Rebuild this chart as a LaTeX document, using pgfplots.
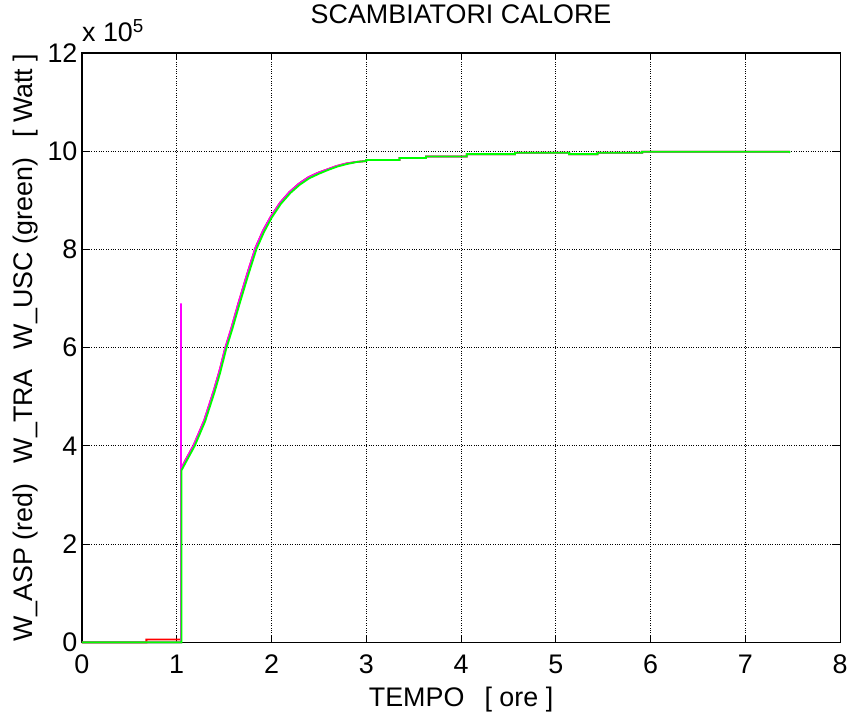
\documentclass[border=0pt]{standalone}
\usepackage{pgfplots}
\pgfplotsset{compat=1.18}
\usepackage{fontspec}
\setmainfont{Liberation Sans}
\definecolor{mgreen}{rgb}{0,1,0}
\definecolor{mred}{rgb}{1,0,0}
\definecolor{mmag}{rgb}{1,0,1}
\newcommand{\ff}{\fontsize{27}{27}\selectfont}
\begin{document}
\begin{tikzpicture}
\begin{axis}[
  at={(0,0)}, anchor=south west,
  scale only axis, width=759bp, height=590bp,
  xmin=0, xmax=8, ymin=0, ymax=12,
  xtick={0,1,...,8}, ytick={0,2,...,12},
  grid=major, major grid style={black, dotted, line width=0.9bp},
  tick align=inside, major tick length=7bp,
  xtick pos=both, ytick pos=both,
  tick style={black, line width=0.9bp},
  axis line style={black, line width=1.3bp},
  /pgf/number format/assume math mode=true,
  scaled ticks=false,
  tick label style={font=\ff},
  xticklabel style={yshift=-9bp},
  yticklabel style={xshift=-1bp},
  title={SCAMBIATORI CALORE},
  title style={font=\ff, at={(axis description cs:0.5,1)}, anchor=base, yshift=23bp},
  xlabel={TEMPO\hspace{0.75em}[ ore ]},
  xlabel style={font=\ff, at={(axis description cs:0.5,0)}, anchor=base, yshift=-64bp},
  ylabel={W\_ASP (red)\hspace{0.75em}W\_TRA\hspace{0.75em}W\_USC (green)\hspace{0.75em}[ Watt ]},
  ylabel style={font=\ff, at={(axis description cs:-0.0646,0.5)}, anchor=base},
  clip=false,
]
% W_ASP (red)
\addplot[mred, line width=1.8bp] coordinates {
 (0,0) (0.68,0) (0.68,0.06) (1.045,0.06) (1.045,3.52)
 (1.09,3.70) (1.18,4.02) (1.29,4.52) (1.39,5.12) (1.45,5.52) (1.51,5.98) (1.58,6.42) (1.65,6.90)
 (1.74,7.48) (1.83,8.03) (1.91,8.38) (1.99,8.66) (2.09,8.95) (2.19,9.17)
 (2.29,9.34) (2.39,9.47) (2.49,9.56) (2.59,9.63) (2.69,9.70) (2.79,9.75)
 (2.89,9.78) (3.0,9.80) (3.0,9.82) (3.35,9.82) (3.35,9.86) (3.63,9.86)
 (3.63,9.89) (4.06,9.89) (4.06,9.94) (4.57,9.94) (4.57,9.97) (5.14,9.97)
 (5.14,9.94) (5.44,9.94) (5.44,9.97) (5.91,9.97) (5.91,9.99) (7.47,9.99)
};
% W_TRA (magenta)
\addplot[mmag, line width=1.8bp] coordinates {
 (0,0) (1.045,0) (1.045,6.90) (1.045,3.52)
 (1.09,3.70) (1.18,4.02) (1.29,4.52) (1.39,5.12) (1.45,5.52) (1.51,5.98) (1.58,6.42) (1.65,6.90)
 (1.74,7.48) (1.83,8.03) (1.91,8.38) (1.99,8.66) (2.09,8.95) (2.19,9.17)
 (2.29,9.34) (2.39,9.47) (2.49,9.56) (2.59,9.63) (2.69,9.70) (2.79,9.75)
 (2.89,9.78) (3.0,9.80) (3.0,9.82) (3.35,9.82) (3.35,9.86) (3.63,9.86)
 (3.63,9.89) (4.06,9.89) (4.06,9.94) (4.57,9.94) (4.57,9.97) (5.14,9.97)
 (5.14,9.94) (5.44,9.94) (5.44,9.97) (5.91,9.97) (5.91,9.99) (7.47,9.99)
};
% W_USC (green)
\addplot[mgreen, line width=1.8bp] coordinates {
 (0,0) (1.05,0) (1.05,3.50)
 (1.10,3.68) (1.19,4.00) (1.30,4.50) (1.40,5.10) (1.46,5.50) (1.52,5.96) (1.59,6.40) (1.66,6.87)
 (1.75,7.45) (1.84,8.00) (1.92,8.35) (2.00,8.64) (2.10,8.93) (2.20,9.15)
 (2.30,9.32) (2.40,9.45) (2.50,9.54) (2.60,9.62) (2.70,9.69) (2.80,9.74)
 (2.90,9.78) (3.0,9.80) (3.0,9.82) (3.35,9.82) (3.35,9.86) (3.63,9.86)
 (3.63,9.89) (4.06,9.89) (4.06,9.94) (4.57,9.94) (4.57,9.97) (5.14,9.97)
 (5.14,9.94) (5.44,9.94) (5.44,9.97) (5.91,9.97) (5.91,9.99) (7.46,9.99)
 (7.47,9.97)
};
\node[anchor=base west, font=\ff, inner sep=0pt]
  at ([yshift=11bp]rel axis cs:0,1) {x 10\textsuperscript{5}};
\end{axis}
\useasboundingbox (-82bp,-72bp) rectangle (769bp,643bp);
\end{tikzpicture}
\end{document}
